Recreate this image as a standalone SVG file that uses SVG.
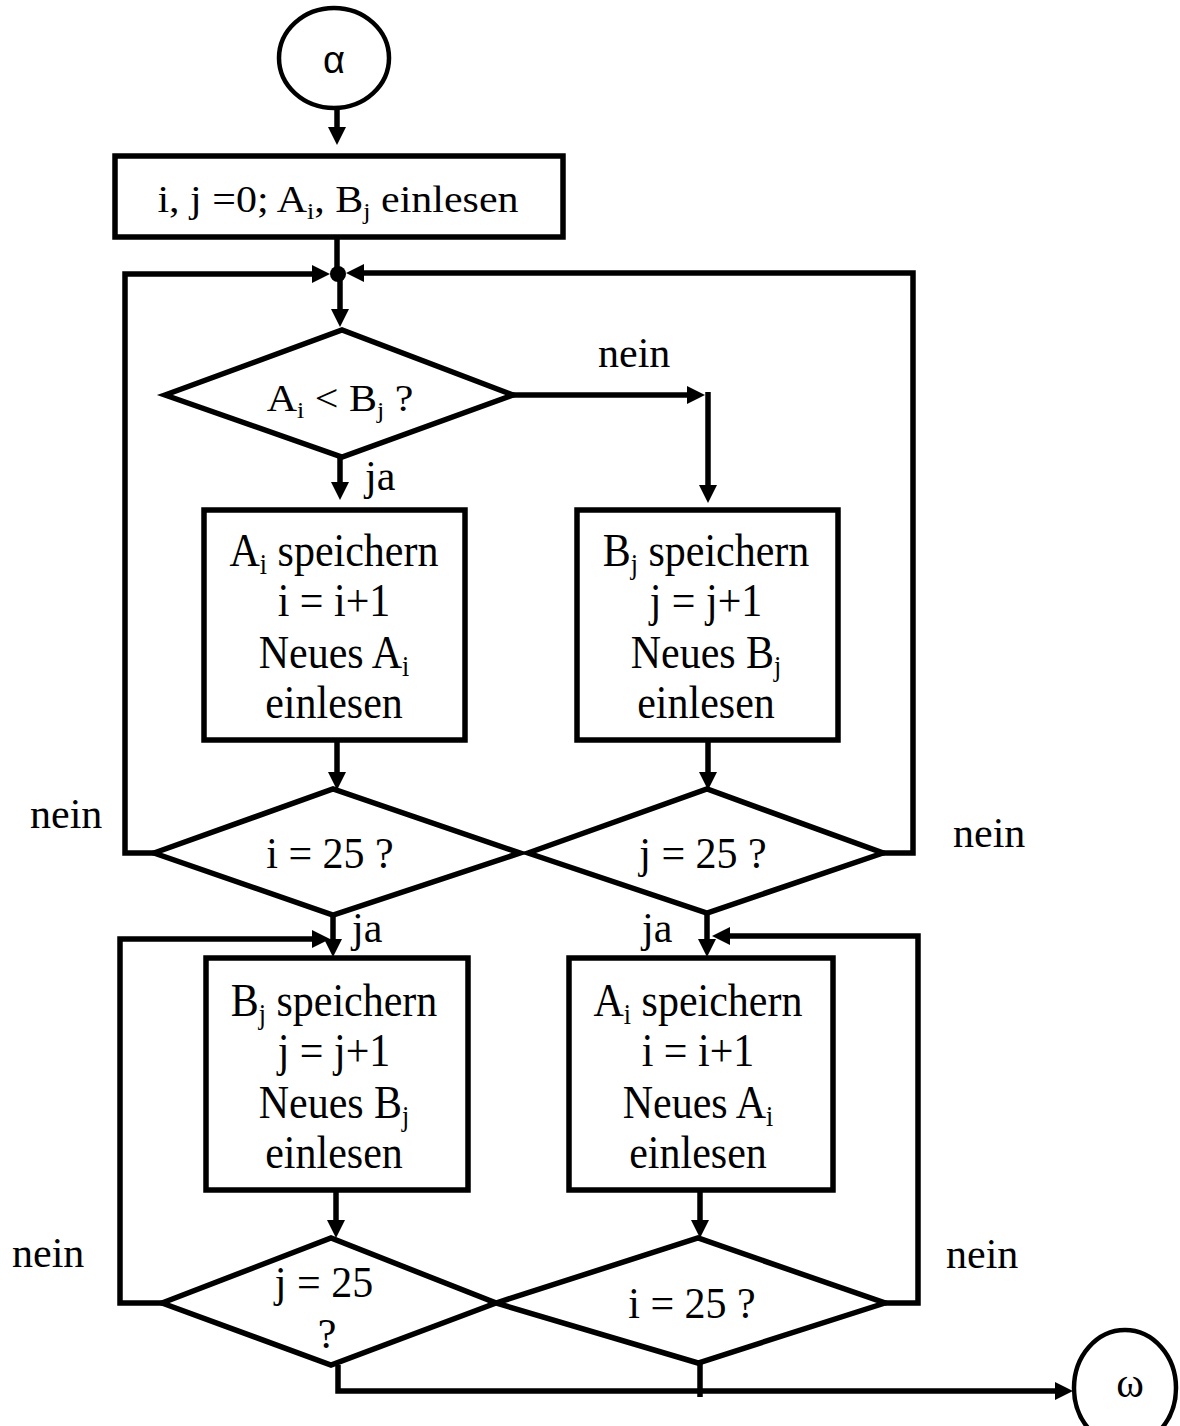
<svg xmlns="http://www.w3.org/2000/svg" width="1180" height="1426" viewBox="0 0 1180 1426">
<style>
.shape{fill:#fff;stroke:#000;stroke-width:5.5;stroke-linejoin:miter}
.term{fill:#fff;stroke:#000;stroke-width:4.5}
.con{fill:none;stroke:#000;stroke-width:5.5;stroke-linejoin:miter}
.t{font-family:"Liberation Serif","Times New Roman",serif;font-size:42px;fill:#000;text-anchor:middle}
.lbl{font-family:"Liberation Serif","Times New Roman",serif;font-size:42px;fill:#000}
.sub{font-size:26px}
</style>
<defs>
<marker id="ah" viewBox="0 0 18 18" refX="1" refY="9" markerWidth="18" markerHeight="18" markerUnits="userSpaceOnUse" orient="auto">
<path d="M0,0 L18,9 L0,18 z" fill="#000"/>
</marker>
</defs>

<g id="connectors">
<line class="con" x1="337" y1="110" x2="337" y2="128" marker-end="url(#ah)"/>
<line class="con" x1="337" y1="237" x2="337" y2="274"/>
<path class="con" d="M154,853 H125 V274 H313" marker-end="url(#ah)"/>
<path class="con" d="M883,853 H913 V273 H363" marker-end="url(#ah)"/>
<line class="con" x1="340" y1="280" x2="340" y2="310" marker-end="url(#ah)"/>
<line class="con" x1="340" y1="457" x2="340" y2="483" marker-end="url(#ah)"/>
<path class="con" d="M513,395 H688" marker-end="url(#ah)"/>
<line class="con" x1="708" y1="392" x2="708" y2="486" marker-end="url(#ah)"/>
<line class="con" x1="337" y1="740" x2="337" y2="773" marker-end="url(#ah)"/>
<line class="con" x1="708" y1="740" x2="708" y2="773" marker-end="url(#ah)"/>
<line class="con" x1="333" y1="915" x2="333" y2="940" marker-end="url(#ah)"/>
<line class="con" x1="707" y1="913" x2="707" y2="940" marker-end="url(#ah)"/>
<path class="con" d="M162,1303 H120 V939 H313" marker-end="url(#ah)"/>
<path class="con" d="M885,1303 H918 V936 H729" marker-end="url(#ah)"/>
<line class="con" x1="336" y1="1190" x2="336" y2="1221" marker-end="url(#ah)"/>
<line class="con" x1="700" y1="1190" x2="700" y2="1221" marker-end="url(#ah)"/>
<path class="con" d="M338,1365 V1391 H1056" marker-end="url(#ah)"/>
<line class="con" x1="700" y1="1363" x2="700" y2="1397"/>
<circle cx="338" cy="274" r="8" fill="#000"/>
<text class="lbl" x="598" y="367">nein</text>
<text class="lbl" x="365" y="490">ja</text>
<text class="lbl" x="30" y="828">nein</text>
<text class="lbl" x="953" y="847">nein</text>
<text class="lbl" x="352" y="942">ja</text>
<text class="lbl" x="642" y="942">ja</text>
<text class="lbl" x="12" y="1267">nein</text>
<text class="lbl" x="946" y="1268">nein</text>
</g>

<g id="start">
<ellipse class="term" cx="334" cy="58" rx="55" ry="50"/>
<text x="334" y="73" font-family="'Liberation Sans',Arial,sans-serif" font-size="38" text-anchor="middle">α</text>
</g>

<g id="init">
<rect class="shape" x="115" y="156" width="448" height="81"/>
<text class="t" transform="translate(338,212) scale(1,0.9)">i, j =0; A<tspan class="sub" dy="8">i</tspan><tspan dy="-8">, B</tspan><tspan class="sub" dy="8">j</tspan><tspan dy="-8"> einlesen</tspan></text>
</g>

<g id="cmp">
<polygon class="shape" points="165,395 342,330 513,395 342,457"/>
<text class="t" transform="translate(340,411) scale(1,0.9)">A<tspan class="sub" dy="8">i</tspan><tspan dy="-8"> &lt; B</tspan><tspan class="sub" dy="8">j</tspan><tspan dy="-8"> ?</tspan></text>
</g>

<g id="storeA1">
<rect class="shape" x="204" y="510" width="261" height="230"/>
<text class="t" transform="translate(334,566) scale(1,1.12)">A<tspan class="sub" dy="7">i</tspan><tspan dy="-7"> speichern</tspan></text>
<text class="t" transform="translate(334,616) scale(1,1.12)">i = i+1</text>
<text class="t" transform="translate(334,668) scale(1,1.12)">Neues A<tspan class="sub" dy="7">i</tspan></text>
<text class="t" transform="translate(334,718) scale(1,1.12)">einlesen</text>
</g>

<g id="storeB1">
<rect class="shape" x="577" y="510" width="261" height="230"/>
<text class="t" transform="translate(706,566) scale(1,1.12)">B<tspan class="sub" dy="7">j</tspan><tspan dy="-7"> speichern</tspan></text>
<text class="t" transform="translate(706,616) scale(1,1.12)">j = j+1</text>
<text class="t" transform="translate(706,668) scale(1,1.12)">Neues B<tspan class="sub" dy="7">j</tspan></text>
<text class="t" transform="translate(706,718) scale(1,1.12)">einlesen</text>
</g>

<g id="testI1">
<polygon class="shape" points="154,853 333,789 520,853 333,915"/>
<text class="t" transform="translate(330,868) scale(1,1.05)">i = 25 ?</text>
</g>

<g id="testJ1">
<polygon class="shape" points="528,853 707,789 883,853 707,913"/>
<text class="t" transform="translate(703,868) scale(1,1.05)">j = 25 ?</text>
</g>

<g id="storeB2">
<rect class="shape" x="206" y="958" width="262" height="232"/>
<text class="t" transform="translate(334,1016) scale(1,1.12)">B<tspan class="sub" dy="7">j</tspan><tspan dy="-7"> speichern</tspan></text>
<text class="t" transform="translate(334,1066) scale(1,1.12)">j = j+1</text>
<text class="t" transform="translate(334,1118) scale(1,1.12)">Neues B<tspan class="sub" dy="7">j</tspan></text>
<text class="t" transform="translate(334,1168) scale(1,1.12)">einlesen</text>
</g>

<g id="storeA2">
<rect class="shape" x="569" y="958" width="264" height="232"/>
<text class="t" transform="translate(698,1016) scale(1,1.12)">A<tspan class="sub" dy="7">i</tspan><tspan dy="-7"> speichern</tspan></text>
<text class="t" transform="translate(698,1066) scale(1,1.12)">i = i+1</text>
<text class="t" transform="translate(698,1118) scale(1,1.12)">Neues A<tspan class="sub" dy="7">i</tspan></text>
<text class="t" transform="translate(698,1168) scale(1,1.12)">einlesen</text>
</g>

<g id="testJ2">
<polygon class="shape" points="162,1303 331,1238 496,1303 331,1365"/>
<text class="t" transform="translate(324,1297) scale(1,1.05)">j = 25</text>
<text class="t" x="327" y="1348">?</text>
</g>

<g id="testI2">
<polygon class="shape" points="496,1303 698,1238 885,1303 698,1363"/>
<text class="t" transform="translate(692,1318) scale(1,1.05)">i = 25 ?</text>
</g>

<g id="end">
<ellipse class="term" cx="1125" cy="1388" rx="51" ry="58"/>
<text x="1130" y="1397" font-family="'Liberation Serif','Times New Roman',serif" font-size="42" text-anchor="middle">ω</text>
</g>
</svg>
